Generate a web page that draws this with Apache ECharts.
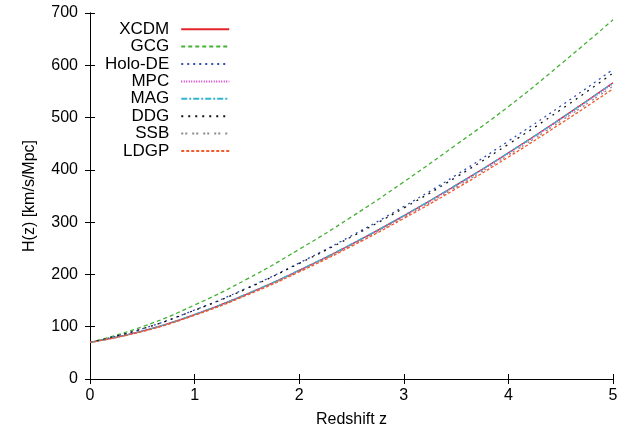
<!DOCTYPE html>
<html><head><meta charset="utf-8">
<script src="https://cdn.jsdelivr.net/npm/echarts@6/dist/echarts.min.js"></script>
<style>html,body{margin:0;padding:0;background:#fff}#c{width:624px;height:433px}</style>
</head><body><div id="c"></div>
<script>
const zValues = [0, 0.5, 1, 1.5, 2, 2.5, 3, 3.5, 4, 4.5, 5];
const xTicks = [0, 1, 2, 3, 4, 5];
const yTicks = [0, 100, 200, 300, 400, 500, 600, 700];
const XCDM   = [70, 91.6, 123.2, 162.5, 207.7, 257.8, 312.3, 370.7, 432.6, 498.0, 566.5];
const GCG    = [70, 100.0, 141.5, 191.0, 248.0, 310.0, 377.0, 448.0, 521.0, 602.0, 687.0];
const HoloDE = [70, 96.0, 132.0, 174.0, 222.0, 274.0, 330.0, 390.0, 455.0, 522.0, 592.0];
const MPC    = [70, 91.5, 123.0, 162.2, 207.3, 257.2, 311.5, 369.6, 431.3, 496.5, 564.5];
const MAG    = [70, 91.8, 123.5, 163.0, 208.2, 258.3, 312.8, 371.0, 432.8, 498.0, 566.0];
const DDG    = [70, 96.0, 131.5, 173.0, 221.0, 272.0, 327.0, 386.0, 449.0, 515.0, 585.0];
const SSB    = [70, 91.3, 122.6, 161.6, 206.4, 255.9, 309.6, 367.0, 428.3, 493.0, 560.0];
const LDGP   = [70, 90.8, 121.8, 160.4, 204.8, 253.9, 307.1, 364.0, 424.6, 488.5, 555.0];

const seriesDefs = [
  {name: 'XCDM', data: XCDM, color: '#e3242b', type: 'solid'},
  {name: 'GCG', data: GCG, color: '#44b034', type: [4, 3]},
  {name: 'Holo-DE', data: HoloDE, color: '#2f4fbf', type: [2, 4]},
  {name: 'MPC', data: MPC, color: '#d030c8', type: [1, 1.5]},
  {name: 'MAG', data: MAG, color: '#35b4d0', type: [6, 2, 2, 2]},
  {name: 'DDG', data: DDG, color: '#111111', type: [2, 5]},
  {name: 'SSB', data: SSB, color: '#8a8a8a', type: [2, 2, 2, 5]},
  {name: 'LDGP', data: LDGP, color: '#f25a2a', type: [3, 2]}
];

const font = 'Liberation Sans, Arial, sans-serif';
const chart = echarts.init(document.getElementById('c'), null, {renderer: 'canvas'});
const axisCommon = {
  axisLine: {show: true, lineStyle: {color: '#000', width: 1}},
  axisTick: {show: true, inside: true, length: 5, lineStyle: {color: '#000', width: 1}},
  splitLine: {show: false}
};
chart.setOption({
  animation: false,
  backgroundColor: '#fff',
  grid: {left: 90, right: 11, top: 13, bottom: 53, containLabel: false},
  legend: {
    orient: 'vertical', left: 100, top: 15.5, align: 'right', padding: 5,
    itemWidth: 48, itemHeight: 8, itemGap: 0,
    itemStyle: {opacity: 0},
    textStyle: {fontFamily: font, fontSize: 17, lineHeight: 17.4, color: '#000', padding: [0, 7, 0, 0]},
    data: seriesDefs.map(s => s.name)
  },
  xAxis: [
    Object.assign({
      type: 'value', min: 0, max: 5, interval: 1, position: 'bottom',
      name: 'Redshift z', nameLocation: 'middle', nameGap: 33,
      nameTextStyle: {fontFamily: font, fontSize: 16, color: '#000'},
      axisLabel: {fontFamily: font, fontSize: 16, color: '#000', margin: 9,
        formatter: v => xTicks.includes(v) ? String(v) : ''}
    }, axisCommon),
    Object.assign({type: 'value', min: 0, max: 5, interval: 1, position: 'top',
      axisLabel: {show: false}}, axisCommon)
  ],
  yAxis: [
    Object.assign({
      type: 'value', min: 0, max: 700, interval: 100, position: 'left',
      name: 'H(z) [km/s/Mpc]', nameLocation: 'middle', nameGap: 52, nameRotate: 90,
      nameTextStyle: {fontFamily: font, fontSize: 16, color: '#000'},
      axisLabel: {fontFamily: font, fontSize: 16, color: '#000', margin: 12,
        formatter: v => yTicks.includes(v) ? String(v) : ''}
    }, axisCommon),
    Object.assign({type: 'value', min: 0, max: 700, interval: 100, position: 'right',
      axisLabel: {show: false}}, axisCommon)
  ],
  series: seriesDefs.map(s => ({
    name: s.name, type: 'line', smooth: true, symbol: 'none',
    xAxisIndex: 0, yAxisIndex: 0,
    data: zValues.map((z, i) => [z, s.data[i]]),
    lineStyle: {color: s.color, width: 1.3, type: s.type},
    itemStyle: {color: s.color}
  }))
});
</script></body></html>
